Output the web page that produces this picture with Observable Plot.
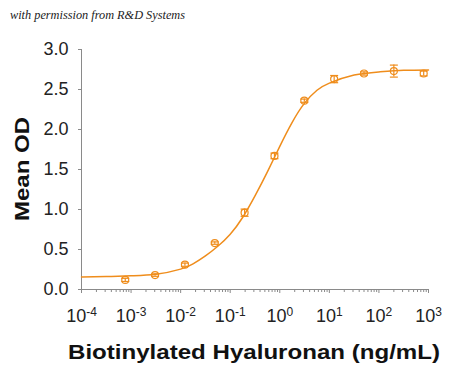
<!DOCTYPE html>
<html>
<head>
<meta charset="utf-8">
<script src="https://cdn.jsdelivr.net/npm/d3@7"></script>
<script src="https://cdn.jsdelivr.net/npm/@observablehq/plot@0.6"></script>
<style>
  html, body { margin: 0; padding: 0; background: #fff; }
  #chart { width: 450px; height: 369px; }
</style>
</head>
<body>
<div id="chart"></div>
<script>
// ---- data ----
const concentrations = [0.000763, 0.00305, 0.0122, 0.0488, 0.195, 0.781, 3.125, 12.5, 50, 200, 800]; // ng/mL
const meanOD        = [0.12, 0.18, 0.31, 0.58, 0.96, 1.67, 2.36, 2.63, 2.70, 2.73, 2.70];
const errorOD       = [0.02, 0.015, 0.02, 0.015, 0.045, 0.035, 0.02, 0.045, 0.02, 0.075, 0.03];

// fitted curve (log10 concentration, OD)
const curveLog10 = [-4, -3.5, -3, -2.5, -2, -1.75, -1.5, -1.25, -1, -0.75, -0.5, -0.25, 0, 0.25, 0.5, 0.75, 1, 1.5, 2, 2.5, 3];
const curveOD    = [0.155, 0.162, 0.172, 0.19, 0.255, 0.32, 0.42, 0.54, 0.69, 0.90, 1.17, 1.47, 1.79, 2.09, 2.33, 2.49, 2.58, 2.68, 2.72, 2.74, 2.745];

const yTicks = [0, 0.5, 1, 1.5, 2, 2.5, 3];
const xExponents = [-4, -3, -2, -1, 0, 1, 2, 3];

const headerText = "with permission from R&D Systems";
const yTitle = "Mean OD";
const xTitle = "Biotinylated Hyaluronan (ng/mL)";

const orange = "#ef8d1c";
const axisGray = "#8a8a8a";

// ---- build tables ----
const points = concentrations.map((c, i) => ({c, od: meanOD[i], sd: errorOD[i]}));
const curve = curveLog10.map((l, i) => ({c: Math.pow(10, l), od: curveOD[i]}));
const majorTicks = xExponents.map(e => Math.pow(10, e));
const minorTicks = [];
for (const e of xExponents.slice(0, -1)) for (let k = 2; k <= 9; k++) minorTicks.push(k * Math.pow(10, e));

const capSymbol = { draw(ctx) { ctx.moveTo(-4, 0); ctx.lineTo(4, 0); } };

const chart = Plot.plot({
  width: 450,
  height: 369,
  marginLeft: 81,
  marginRight: 22,
  marginTop: 49,
  marginBottom: 80,
  style: { fontFamily: "'Liberation Sans', Arial, sans-serif", background: "#fff", color: "#222" },
  x: { type: "log", domain: [1e-4, 1e3] },
  y: { domain: [0, 3] },
  marks: [
    Plot.ruleY([0], { stroke: axisGray }),
    Plot.ruleX([1e-4], { stroke: axisGray }),
    Plot.axisY({ ticks: yTicks, tickFormat: d => d.toFixed(1), tickSize: 3, tickPadding: 10, fontSize: 18, stroke: axisGray, fill: "#222", label: null }),
    Plot.axisX({ ticks: minorTicks, tickFormat: () => "", tickSize: 3, stroke: axisGray, label: null }),
    Plot.axisX({ ticks: majorTicks, tickFormat: d => "10^" + Math.round(Math.log10(d)), tickSize: 4, tickPadding: 16, fontSize: 18, stroke: axisGray, fill: "#222", label: null }),
    Plot.line(curve, { x: "c", y: "od", stroke: orange, strokeWidth: 1.5, curve: "natural" }),
    Plot.ruleX(points, { x: "c", y1: d => d.od - d.sd, y2: d => d.od + d.sd, stroke: orange, strokeWidth: 1.2 }),
    Plot.dot(points, { x: "c", y: d => d.od + d.sd, symbol: capSymbol, stroke: orange, strokeWidth: 1.2 }),
    Plot.dot(points, { x: "c", y: d => d.od - d.sd, symbol: capSymbol, stroke: orange, strokeWidth: 1.2 }),
    Plot.dot(points, { x: "c", y: "od", r: 3.5, stroke: orange, strokeWidth: 1.2, fill: "none" })
  ]
});

// superscript exponents
const ns = "http://www.w3.org/2000/svg";
chart.querySelectorAll("text").forEach(t => {
  const s = t.textContent;
  if (s.includes("^")) {
    const [base, exp] = s.split("^");
    t.textContent = base;
    const ts = document.createElementNS(ns, "tspan");
    ts.setAttribute("dy", "-6.5");
    ts.setAttribute("font-size", "12");
    ts.textContent = exp;
    t.appendChild(ts);
  }
});

const svg = d3.select(chart);
svg.append("text")
  .attr("x", 10).attr("y", 19)
  .attr("text-anchor", "start")
  .attr("font-family", "'Liberation Serif', 'DejaVu Serif', serif")
  .attr("font-style", "italic")
  .attr("font-size", 12.5)
  .attr("fill", "#222")
  .attr("textLength", 175).attr("lengthAdjust", "spacingAndGlyphs")
  .text(headerText);

svg.append("text")
  .attr("transform", "translate(29,169) rotate(-90)")
  .attr("text-anchor", "middle")
  .attr("font-family", "'Liberation Sans', Arial, sans-serif")
  .attr("font-weight", "bold")
  .attr("font-size", 19.5)
  .attr("fill", "#111")
  .attr("textLength", 104).attr("lengthAdjust", "spacingAndGlyphs")
  .text(yTitle);

svg.append("text")
  .attr("x", 254).attr("y", 359)
  .attr("text-anchor", "middle")
  .attr("font-family", "'Liberation Sans', Arial, sans-serif")
  .attr("font-weight", "bold")
  .attr("font-size", 19.5)
  .attr("fill", "#111")
  .attr("textLength", 372).attr("lengthAdjust", "spacingAndGlyphs")
  .text(xTitle);

document.getElementById("chart").appendChild(chart);
</script>
</body>
</html>
